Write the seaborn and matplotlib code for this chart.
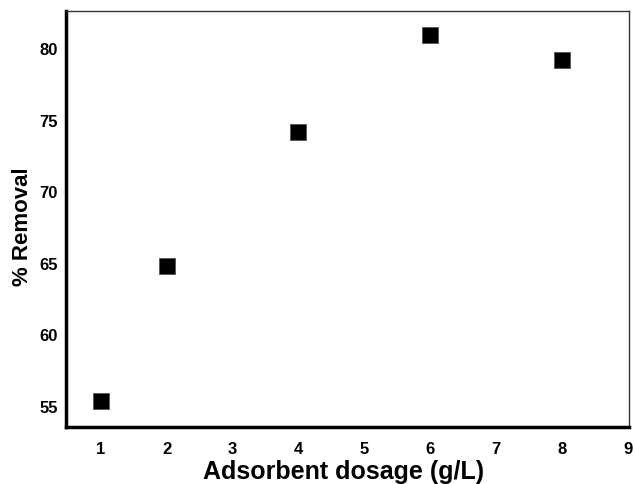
import matplotlib
matplotlib.use("Agg")
import matplotlib.pyplot as plt
import seaborn as sns
import pandas as pd

dosage = [1, 2, 4, 6, 8]
removal = [55.35, 64.8, 74.15, 80.9, 79.2]
x_ticks = [1, 2, 3, 4, 5, 6, 7, 8, 9]
y_ticks = [55, 60, 65, 70, 75, 80]

sns.set_style("white")
plt.rcParams['font.family'] = ['Liberation Sans', 'DejaVu Sans']
plt.rcParams['text.color'] = 'black'
plt.rcParams['axes.labelcolor'] = 'black'
plt.rcParams['xtick.color'] = 'black'
plt.rcParams['ytick.color'] = 'black'

df = pd.DataFrame({"dosage": dosage, "removal": removal})
fig = plt.figure(figsize=(6.34, 4.85), dpi=100)
ax = fig.add_axes([0.104, 0.1175, 0.888, 0.8575])
sns.scatterplot(data=df, x="dosage", y="removal", marker="s", s=140,
                color="black", edgecolor="#555555", linewidth=0.6, ax=ax)
ax.set_xlim(0.47, 9.02)
ax.set_ylim(53.53, 82.58)
ax.set_xticks(x_ticks)
ax.set_yticks(y_ticks)
ax.tick_params(axis="x", length=0, labelsize=12, pad=10)
ax.tick_params(axis="y", length=0, labelsize=12, pad=6)
for lab in ax.get_xticklabels() + ax.get_yticklabels():
    lab.set_fontweight("bold")
ax.set_xlabel("Adsorbent dosage (g/L)", fontsize=18, fontweight="bold")
ax.set_ylabel("% Removal", fontsize=16, fontweight="bold")
ax.yaxis.set_label_coords(-0.058, 0.485)
ax.xaxis.set_label_coords(0.493, -0.078)
ax.xaxis.label.set_va("top")
for side in ["left", "bottom"]:
    ax.spines[side].set_linewidth(2.5)
    ax.spines[side].set_color("black")
for side in ["top", "right"]:
    ax.spines[side].set_linewidth(1.0)
    ax.spines[side].set_color("#333333")
fig.savefig("out.png", dpi=100)
